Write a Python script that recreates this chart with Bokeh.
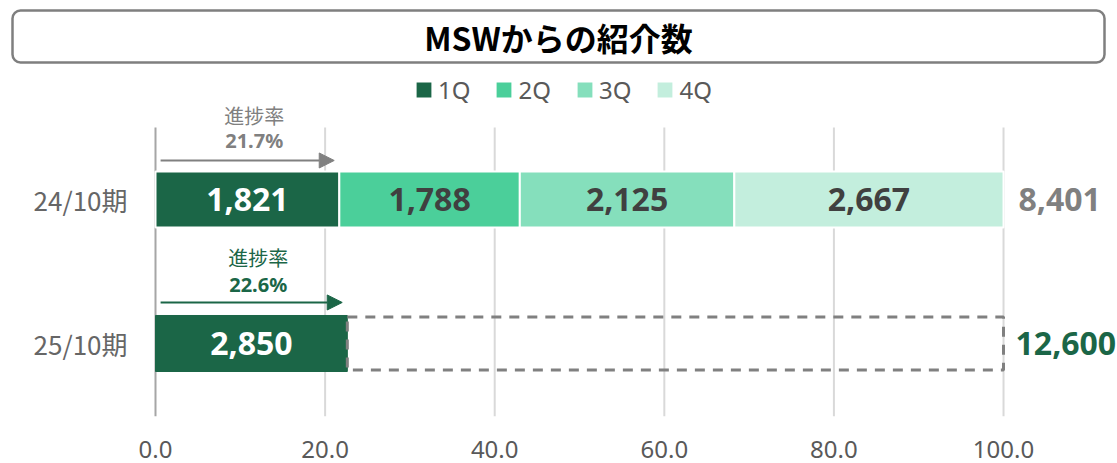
from bokeh.plotting import figure
from bokeh.models import (Range1d, FixedTicker, Legend, LegendItem, BoxAnnotation,
                          Label, Arrow, NormalHead, ColumnDataSource, PrintfTickFormatter)
from bokeh.embed import file_html
from bokeh.resources import INLINE
from bokeh.core.properties import value

# ---------------- data ----------------
chart_title = "MSWからの紹介数"
periods = ["24/10期", "25/10期"]
period_pos = [1, 0]
quarters = ["1Q", "2Q", "3Q", "4Q"]
q_colors = ["#1B6647", "#4BCF9A", "#85DFBC", "#C3EEDD"]
q_text_colors = ["#FFFFFF", "#404040", "#404040", "#404040"]
prev_values = [1821, 1788, 2125, 2667]      # 24/10期
cur_values = [2850]                          # 25/10期 (1Q)
cur_target = 12600
progress_label = "進捗率"
x_ticks = [0, 20, 40, 60, 80, 100]

prev_total = sum(prev_values)
prev_pct = [v / prev_total * 100 for v in prev_values]
cur_pct = [v / cur_target * 100 for v in cur_values]
prev_progress = prev_pct[0]
cur_progress = cur_pct[0]

CJK = "Noto Sans CJK JP"
LAT = "Noto Sans"
GRAY = "#808080"
GREEN = q_colors[0]

W, H = 1117, 463
FRAME_BOTTOM = 416
p = figure(width=W, height=H, output_backend="svg", toolbar_location=None,
           x_range=Range1d(-18.278, 113.44), y_range=Range1d(-0.507, 2.382),
           min_border_left=0, min_border_right=0, min_border_top=0,
           min_border_bottom=H - FRAME_BOTTOM)
p.outline_line_color = None
p.background_fill_color = "white"
p.border_fill_color = "white"
p.yaxis.visible = False
p.grid.visible = False

xa = p.xaxis[0]
xa.ticker = FixedTicker(ticks=x_ticks)
xa.formatter = PrintfTickFormatter(format="%.1f")
xa.axis_line_color = None
xa.major_tick_line_color = None
xa.minor_tick_line_color = None
xa.major_label_standoff = 18
xa.major_label_text_font = LAT
xa.major_label_text_font_size = "24px"
xa.major_label_text_color = "#595959"

bar_h = 0.389
y_top_lines = 1.5
y_bot = -0.507

# gridlines and value axis line (drawn from tick values)
grid_x = [t for t in x_ticks if t != 0]
p.segment(x0=grid_x, x1=grid_x, y0=[y_bot] * len(grid_x), y1=[y_top_lines] * len(grid_x),
          line_color="#D9D9D9", line_width=2)
p.segment(x0=[0], x1=[0], y0=[y_bot], y1=[y_top_lines], line_color="#A6A6A6", line_width=2)

# stacked bars for 24/10
lefts, rights = [], []
acc = 0
for v in prev_pct:
    lefts.append(acc)
    acc += v
    rights.append(acc)

renderers = []
for i, q in enumerate(quarters):
    r = p.hbar(y=[period_pos[0]], left=[lefts[i]], right=[rights[i]], height=bar_h,
               fill_color=q_colors[i], line_color="white", line_width=2)
    renderers.append(r)

# 25/10 bar
p.hbar(y=[period_pos[1]], left=[0], right=[cur_pct[0]], height=bar_h,
       fill_color=GREEN, line_color=GREEN, line_width=1)
# dashed target box
p.quad(left=[cur_pct[0]], right=[100], bottom=[period_pos[1] - bar_h / 2 + 0.01],
       top=[period_pos[1] + bar_h / 2 - 0.01],
       fill_color=None, line_color=GRAY, line_width=3, line_dash="10 8")

# bar value labels
src = ColumnDataSource(dict(
    x=[(l + r) / 2 for l, r in zip(lefts, rights)] + [cur_pct[0] / 2],
    y=[period_pos[0]] * 4 + [period_pos[1]],
    t=[f"{v:,}" for v in prev_values] + [f"{v:,}" for v in cur_values],
    c=q_text_colors + ["#FFFFFF"],
))
p.text(x="x", y="y", text="t", text_color="c", source=src, text_align="center",
       text_baseline="middle", text_font=value(LAT), text_font_style="bold",
       text_font_size="32px")

# totals
tot_src = ColumnDataSource(dict(x=[100, 100], y=period_pos,
                                t=[f"{prev_total:,}", f"{cur_target:,}"],
                                c=[GRAY, GREEN], off=[15, 12]))
p.text(x="x", y="y", text="t", text_color="c", x_offset="off", source=tot_src,
       text_align="left", text_baseline="middle",
       text_font=value(LAT), text_font_style="bold", text_font_size="32px")

# period labels
p.text(x=[0, 0], y=period_pos, text=periods, x_offset=-28, text_align="right",
       text_baseline="middle", text_font=value(CJK), text_font_size="26px",
       text_color="#666666")

# progress arrows and labels
prog = [(prev_progress, period_pos[0], GRAY, 0.271, 0.583, 0.41),
        (cur_progress, period_pos[1], GREEN, 0.285, 0.597, 0.41)]
for pct, yc, col, dy_arrow, dy_t1, dy_t2 in prog:
    p.add_layout(Arrow(end=NormalHead(size=15, fill_color=col, line_color=col),
                       x_start=0.6, x_end=pct - 0.6, y_start=yc + dy_arrow, y_end=yc + dy_arrow,
                       line_color=col, line_width=2))
    p.text(x=[pct / 2 + 0.8], y=[yc + dy_t1], text=[progress_label], text_align="center",
           text_baseline="middle", text_font=value(CJK), text_font_size="20px", text_color=col)
    p.text(x=[pct / 2 + 0.8], y=[yc + dy_t2], text=[f"{pct:.1f}%"], text_align="center",
           text_baseline="middle", text_font=value(LAT), text_font_style="bold",
           text_font_size="20px", text_color=col)

# title box (screen units, measured from frame bottom-left)
p.add_layout(BoxAnnotation(left=12, right=1104, top=FRAME_BOTTOM - 10, bottom=FRAME_BOTTOM - 62,
                           left_units="screen", right_units="screen",
                           top_units="screen", bottom_units="screen",
                           fill_color="white", fill_alpha=1, line_color="#7F7F7F",
                           line_alpha=1, line_width=2.5, border_radius=8, level="overlay"))
p.add_layout(Label(x=558, y=FRAME_BOTTOM - 36, x_units="screen", y_units="screen",
                   text=chart_title, text_align="center", text_baseline="middle",
                   text_font=CJK, text_font_style="bold", text_font_size="32px",
                   text_color="black", level="overlay"))

# legend
legend = Legend(items=[LegendItem(label=q, renderers=[renderers[i]]) for i, q in enumerate(quarters)],
                orientation="horizontal", location=(413, FRAME_BOTTOM - 106),
                glyph_width=21, glyph_height=21, label_standoff=4, spacing=23,
                label_text_font=LAT, label_text_font_size="24px", label_text_color="#595959",
                padding=0, margin=0, border_line_color=None, background_fill_alpha=0)
p.add_layout(legend)

open("out.html", "w").write(file_html(p, INLINE))
